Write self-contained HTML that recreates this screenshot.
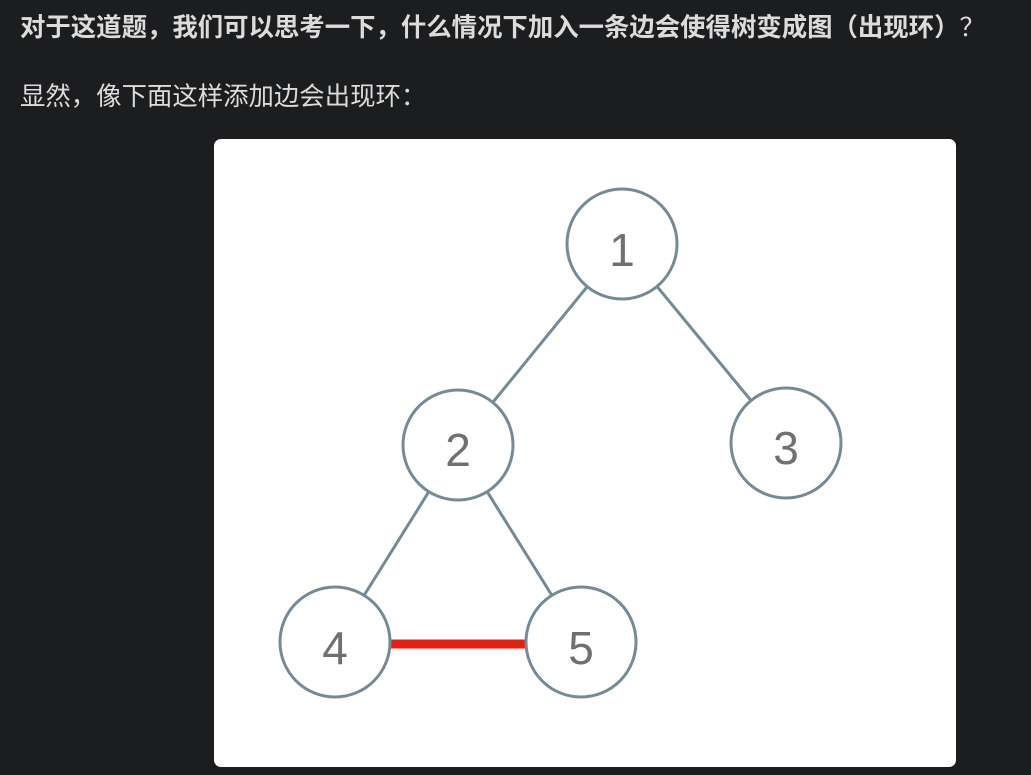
<!DOCTYPE html>
<html><head><meta charset="utf-8"><style>
body{margin:0;width:1031px;height:775px;background:#1c1d1f;overflow:hidden;font-family:"Liberation Sans","Noto Sans CJK SC",sans-serif;color:#dcdcdc}
.t{position:absolute;left:20px;font-size:25.4px;line-height:30px;white-space:nowrap}
</style></head><body>
<div class="t" style="top:13px;font-weight:bold">对于这道题，我们可以思考一下，什么情况下加入一条边会使得树变成图（出现环）<span style="font-weight:normal">？</span></div>
<div class="t" style="top:82px">显然，像下面这样添加边会出现环：</div>
<svg style="position:absolute;left:0;top:0" width="1031" height="775">
<rect x="214" y="139" width="742" height="628" rx="7" fill="#fff"/>
<g stroke="#748a97" stroke-width="3" fill="none">
<line x1="622" y1="244" x2="458" y2="445"/>
<line x1="622" y1="244" x2="786" y2="443"/>
<line x1="458" y1="445" x2="335" y2="642"/>
<line x1="458" y1="445" x2="581" y2="642"/>
</g>
<line x1="388" y1="644" x2="528" y2="644" stroke="#de2313" stroke-width="9"/>
<g stroke="#748a97" stroke-width="3" fill="#fff">
<circle cx="622" cy="244" r="55"/>
<circle cx="458" cy="445" r="55"/>
<circle cx="786" cy="443" r="55"/>
<circle cx="335" cy="642" r="55"/>
<circle cx="581" cy="642" r="55"/>
</g>
<g fill="#707070" font-family="Liberation Sans,sans-serif" font-size="46" text-anchor="middle">
<text x="622" y="266">1</text>
<text x="458" y="466">2</text>
<text x="786" y="464">3</text>
<text x="335" y="664">4</text>
<text x="581" y="664">5</text>
</g>
</svg>
</body></html>
